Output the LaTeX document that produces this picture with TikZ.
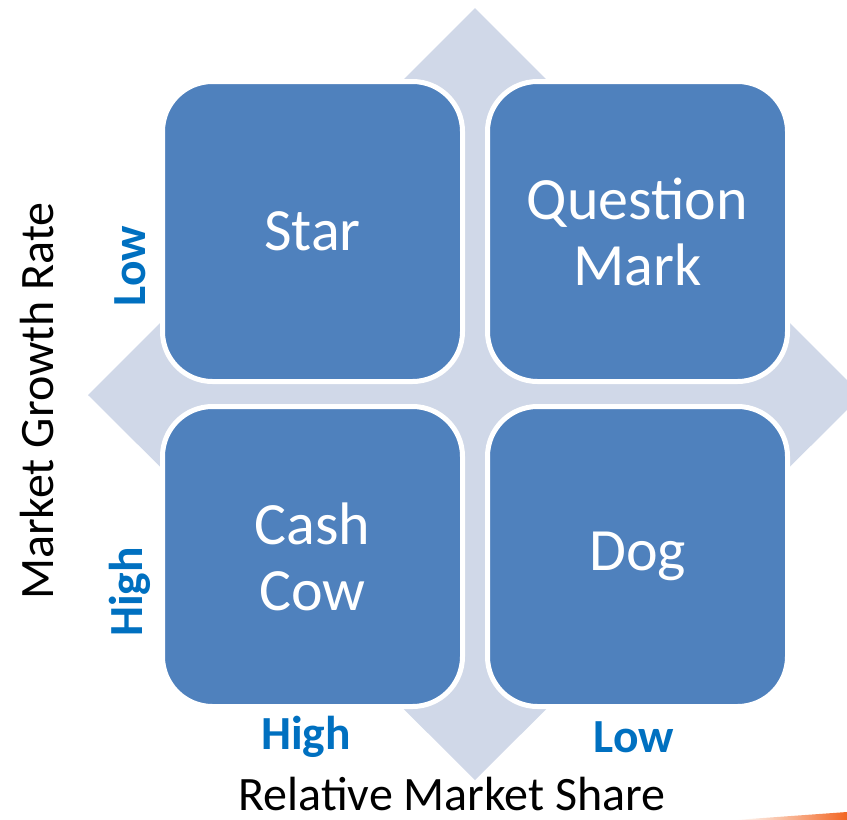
\documentclass[tikz,border=0pt]{standalone}
\usepackage{fontspec}
\setmainfont{Carlito}
\usetikzlibrary{positioning}

\definecolor{boxblue}{HTML}{4F81BD}
\definecolor{paleblue}{HTML}{D0D8E8}
\definecolor{tagblue}{HTML}{0070C0}
\definecolor{streak}{HTML}{F26522}

\tikzset{
    quad/.style={draw=white, line width=5pt, fill=boxblue, rounded corners=50pt,
        minimum width=300pt, minimum height=300pt, inner sep=0pt,
        text=white, align=center, font=\fontsize{60}{66}\selectfont},
    axis/.style={inner sep=0pt, font=\fontsize{48}{52}\selectfont},
    tag/.style={text=tagblue, font=\fontsize{47.5}{52}\selectfont\bfseries},
}

\begin{document}
\begin{tikzpicture}[x=1pt, y=-1pt]
        \useasboundingbox (0,0) rectangle (847,820);
        \clip (0,0) rectangle (847,820);

        % pale diamond behind the grid
        \fill[paleblue] (475,8) -- (862,395) -- (475,780) -- (88,395) -- cycle;

        \node[quad] (star) at (312.5,231.5) {Star};
        \node[quad, right=20pt of star] (qmark) {Question\\Mark};
        \node[quad, below=20pt of star] (cow) {Cash\\Cow};
        \node[quad, below=20pt of qmark] (dog) {Dog};

        \node[axis, rotate=90] (growth) at (37,401) {Market Growth Rate};
        \node[axis, anchor=base] (share) at (452,810) {Relative Market Share};

        \node[tag, rotate=90] (lowrate) at (130,266) {Low};
        \node[tag, rotate=90] (highrate) at (130,592) {High};
        \node[tag] (highshare) at (306,737) {High};
        \node[tag] (lowshare) at (634,737) {Low};

        \shade[left color=white, right color=streak] (735,820) -- (847,812) -- (847,820) -- cycle;
    \end{tikzpicture}
\end{document}
